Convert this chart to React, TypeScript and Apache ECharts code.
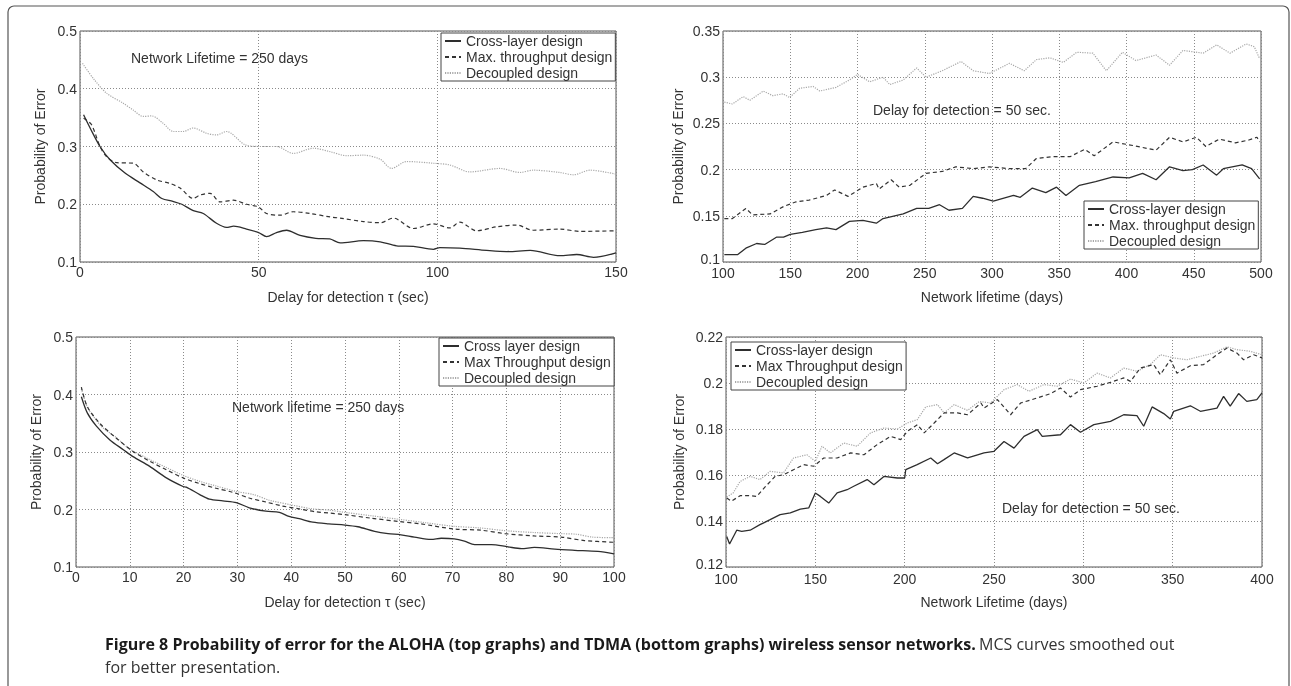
import React, { useEffect, useRef } from "react";
import * as echarts from "echarts";

type Pt = [number, number];

// ---------- Panel 1: ALOHA, probability vs delay (lifetime 250 days)
const p1Cross: Pt[] = [[1,0.355],[3,0.33],[5.6,0.3],[8.4,0.277],[12.6,0.254],[16.8,0.237],[20.5,0.222],[22.9,0.21],[26,0.205],[28.5,0.2],[31.7,0.189],[34.5,0.184],[38.2,0.167],[41,0.16],[43,0.162],[46.6,0.157],[50,0.151],[52.2,0.144],[55,0.151],[57.8,0.155],[61.6,0.146],[66,0.141],[69.9,0.14],[72.8,0.133],[79.3,0.137],[84,0.135],[88.6,0.128],[93.3,0.127],[98.9,0.122],[100.7,0.125],[106.3,0.124],[113.8,0.12],[119.4,0.118],[126,0.12],[134.3,0.111],[139,0.113],[143.7,0.108],[150,0.116]];
const p1MaxTp: Pt[] = [[1,0.349],[3.2,0.338],[5.6,0.3],[7.5,0.282],[10.3,0.272],[14.9,0.271],[17.7,0.256],[21.5,0.242],[25.2,0.236],[28,0.228],[31.7,0.21],[33.6,0.216],[36.4,0.219],[39.2,0.204],[42.9,0.207],[46.6,0.2],[50,0.195],[52.2,0.184],[56,0.181],[59.7,0.187],[64.4,0.184],[70,0.178],[72.8,0.176],[79.3,0.17],[84,0.168],[87.7,0.176],[93.3,0.158],[98.9,0.166],[103.5,0.159],[106.3,0.169],[111,0.154],[116.6,0.161],[122.2,0.164],[126.8,0.155],[134.3,0.157],[139.9,0.153],[150,0.154]];
const p1Decoupled: Pt[] = [[0.7,0.444],[3.7,0.418],[7.5,0.392],[12.1,0.375],[14.9,0.363],[17.7,0.352],[20,0.353],[23.3,0.34],[26.1,0.326],[28.9,0.326],[31.7,0.332],[35.4,0.323],[38.2,0.32],[41,0.326],[46.2,0.303],[50.4,0.3],[55,0.3],[59.7,0.288],[65.3,0.297],[70,0.291],[74.7,0.284],[79.3,0.285],[84,0.278],[87.2,0.262],[91.4,0.274],[98.9,0.271],[103.5,0.268],[109.1,0.256],[117.5,0.262],[123.1,0.255],[126.8,0.259],[134.3,0.255],[138.1,0.251],[142.7,0.259],[150,0.252]];

// ---------- Panel 2: ALOHA, probability vs lifetime (delay 50 s)
const p2Cross: Pt[] = [[101,0.108],[111,0.108],[117,0.115],[125,0.12],[131,0.119],[140,0.127],[145,0.127],[150,0.13],[159,0.132],[169,0.135],[177,0.137],[184,0.135],[194,0.144],[204,0.145],[214,0.142],[219,0.147],[234,0.152],[244,0.158],[253,0.158],[261,0.162],[268,0.156],[278,0.158],[286,0.171],[293,0.169],[301,0.166],[316,0.172],[321,0.17],[330,0.18],[340,0.175],[348,0.181],[355,0.172],[365,0.183],[377,0.187],[390,0.192],[402,0.191],[412,0.196],[422,0.189],[432,0.203],[442,0.199],[449,0.2],[457,0.205],[467,0.194],[472,0.201],[486,0.205],[493,0.201],[499,0.19]];
const p2MaxTp: Pt[] = [[101,0.147],[107,0.147],[117,0.158],[122,0.151],[135,0.152],[145,0.16],[154,0.165],[164,0.167],[177,0.172],[183,0.178],[193,0.171],[204,0.181],[214,0.185],[216,0.179],[225,0.189],[231,0.181],[239,0.183],[251,0.196],[263,0.198],[273,0.203],[286,0.201],[298,0.203],[313,0.201],[325,0.201],[333,0.212],[345,0.214],[358,0.214],[369,0.222],[376,0.215],[390,0.23],[405,0.226],[422,0.221],[432,0.235],[442,0.23],[452,0.235],[459,0.225],[469,0.233],[481,0.229],[491,0.232],[497,0.235],[499,0.23]];
const p2Decoupled: Pt[] = [[101,0.273],[107,0.271],[115,0.279],[120,0.275],[130,0.285],[137,0.28],[144.6,0.282],[149.5,0.278],[157,0.288],[167,0.29],[172,0.285],[184,0.289],[194,0.297],[200,0.303],[209,0.295],[219,0.3],[224,0.292],[234,0.297],[244,0.31],[251,0.3],[263,0.307],[277,0.317],[286,0.307],[298,0.304],[313,0.315],[324,0.307],[333,0.319],[343,0.321],[353,0.316],[363,0.327],[375,0.326],[385,0.307],[397,0.327],[407,0.318],[422,0.324],[432,0.313],[442,0.329],[457,0.326],[467,0.335],[477,0.326],[489,0.336],[495,0.333],[499,0.32]];

// ---------- Panel 3: TDMA, probability vs delay (lifetime 250 days)
const p3Cross: Pt[] = [[1,0.396],[2.1,0.368],[3.8,0.345],[6.3,0.321],[8.8,0.304],[10.6,0.292],[13.7,0.275],[16.8,0.255],[19.9,0.24],[20.5,0.239],[23,0.226],[24.8,0.218],[27.3,0.215],[29.8,0.212],[32.2,0.203],[35.3,0.197],[37.8,0.195],[39.6,0.188],[41.5,0.184],[44,0.178],[47,0.175],[50,0.173],[52.4,0.17],[55.5,0.162],[58,0.158],[60.4,0.156],[62.9,0.152],[66,0.148],[67.9,0.15],[70.3,0.149],[72.2,0.145],[74.1,0.139],[77.2,0.139],[80.3,0.135],[82.8,0.132],[85.2,0.134],[89,0.131],[92.7,0.129],[97,0.127],[100,0.123]];
const p3MaxTp: Pt[] = [[1,0.413],[2.1,0.379],[4.4,0.35],[7.5,0.324],[10.6,0.301],[13.7,0.284],[16.8,0.269],[19.9,0.255],[23,0.245],[26,0.237],[29.1,0.23],[32.2,0.22],[35.3,0.213],[38.4,0.206],[41.5,0.201],[44.6,0.196],[47,0.194],[50,0.191],[54.8,0.185],[60.1,0.179],[64.1,0.175],[70.3,0.166],[75.3,0.164],[79.7,0.158],[85.2,0.154],[90.2,0.152],[94.5,0.146],[100,0.143]];
const p3Decoupled: Pt[] = [[1,0.41],[2.1,0.378],[3.8,0.355],[5,0.342],[7.5,0.325],[10,0.305],[13.7,0.287],[16.8,0.273],[20,0.259],[23,0.249],[26,0.241],[30,0.231],[33,0.226],[36,0.216],[40,0.208],[44,0.201],[47,0.199],[50,0.195],[55,0.189],[60,0.183],[65,0.177],[70,0.171],[75,0.168],[80,0.163],[85,0.16],[90,0.158],[93,0.157],[96,0.152],[100,0.151]];

// ---------- Panel 4: TDMA, probability vs lifetime (delay 50 s)
const p4Cross: Pt[] = [[100.4,0.1333],[102,0.13],[106,0.136],[108.8,0.1355],[113.5,0.136],[119,0.1384],[124.7,0.1406],[130.3,0.1428],[136,0.1435],[141.6,0.1452],[146.3,0.1457],[150,0.1522],[152.8,0.1507],[157.5,0.1478],[162.2,0.1522],[167.8,0.1536],[171.5,0.1551],[179,0.158],[182.8,0.1558],[188.4,0.1594],[195.9,0.1587],[200,0.1587],[200.6,0.1623],[207,0.1645],[214.6,0.1674],[218.4,0.1649],[222,0.1667],[227.7,0.1696],[235.2,0.1674],[240.8,0.1688],[244.4,0.1696],[250,0.1703],[255.6,0.1746],[261.2,0.1717],[266.8,0.1768],[274.2,0.1797],[277,0.1768],[287.2,0.1775],[292.8,0.1819],[298.4,0.1786],[305.9,0.1819],[315.2,0.1833],[322.6,0.1862],[330,0.1858],[333.8,0.1812],[338.5,0.1896],[345,0.1867],[348.7,0.1843],[350.6,0.1877],[359.9,0.1901],[365.5,0.1877],[374.8,0.1891],[378.5,0.1942],[382.2,0.1899],[386.9,0.1954],[391.5,0.192],[397.1,0.1928],[400,0.1957]];
const p4MaxTp: Pt[] = [[100.4,0.15],[103,0.1486],[107.9,0.151],[113.5,0.151],[117.2,0.1507],[121.9,0.1548],[127.5,0.1594],[132.2,0.1601],[137.8,0.1623],[143.4,0.1645],[149.1,0.1638],[154.7,0.1674],[162.2,0.1674],[169.7,0.1696],[177.2,0.1688],[184.6,0.1732],[192.1,0.1768],[197.8,0.1754],[201.5,0.179],[207.1,0.1819],[210.9,0.1783],[216.5,0.1826],[222.1,0.187],[229.6,0.187],[235.2,0.1862],[242.7,0.1913],[244.4,0.1891],[251.9,0.1928],[259.3,0.1862],[264.9,0.1913],[274.2,0.1935],[281.7,0.1954],[287.2,0.1978],[292.8,0.1939],[298.4,0.1971],[307.7,0.1986],[315.2,0.2003],[322.6,0.2022],[326.4,0.2007],[331.9,0.2065],[339.4,0.208],[343.1,0.2036],[348.7,0.2101],[352.4,0.2043],[359.9,0.2075],[367.3,0.208],[374.8,0.2123],[380.4,0.2152],[386,0.213],[389.7,0.2101],[395.3,0.2123],[400,0.2109]];
const p4Decoupled: Pt[] = [[100.4,0.1504],[104,0.1522],[107.9,0.1572],[113.5,0.1594],[119,0.158],[124.7,0.1616],[132.2,0.1609],[137.8,0.1674],[145.3,0.1688],[150,0.1659],[153.7,0.1725],[158.4,0.1696],[165.9,0.1739],[173.4,0.1725],[180.9,0.1783],[188.4,0.1804],[195.9,0.18],[201.5,0.1826],[207.1,0.1841],[211.8,0.1896],[218.4,0.1906],[222.1,0.187],[227.7,0.1906],[235.2,0.1881],[241.8,0.192],[248.1,0.1913],[255.6,0.1971],[263,0.1993],[269.6,0.1964],[277.9,0.1993],[285.4,0.1986],[292.8,0.2017],[300.3,0.2],[307.7,0.2043],[315.2,0.2022],[322.6,0.2065],[330.1,0.2051],[337.5,0.208],[343.1,0.2123],[350.6,0.2109],[358,0.2101],[365.5,0.2116],[372.9,0.213],[380.4,0.2157],[386,0.2145],[393.4,0.2138],[400,0.2123]];

// ---------- Names / texts
const namesTop = ["Cross-layer design", "Max. throughput design", "Decoupled design"];
const names3 = ["Cross layer design", "Max Throughput design", "Decoupled design"];
const names4 = ["Cross-layer design", "Max Throughput design", "Decoupled design"];
const yName = "Probability of Error";
const xNames = ["Delay for detection τ (sec)", "Network lifetime (days)", "Delay for detection τ (sec)", "Network Lifetime (days)"];
const notes = ["Network Lifetime = 250 days", "Delay for detection = 50 sec.", "Network lifetime = 250 days", "Delay for detection = 50 sec."];
const captionBold = "Figure 8 Probability of error for the ALOHA (top graphs) and TDMA (bottom graphs) wireless sensor networks.";
const captionNormal = "MCS curves smoothed out";
const captionLine2 = "for better presentation.";

const FONT = "Liberation Sans";
const TXT = "#333";

const grids = [
  { left: 80, top: 31, width: 536, height: 231 },
  { left: 723, top: 31, width: 538, height: 231 },
  { left: 76, top: 337, width: 538, height: 230 },
  { left: 726, top: 337, width: 536, height: 230 },
];

const fmt = (v: number) => String(Number(v.toFixed(4)));

function xAx(i: number, min: number, max: number, interval: number, margin: number) {
  return {
    type: "value", gridIndex: i, min, max, interval,
    name: xNames[i], nameLocation: "middle", nameGap: 28,
    nameTextStyle: { fontFamily: FONT, fontSize: 14, color: TXT },
    axisLine: { show: false }, axisTick: { show: false },
    axisLabel: { fontFamily: FONT, fontSize: 14, color: TXT, margin },
    splitLine: { show: true, lineStyle: { color: "#8a8a8a", type: [1, 2], width: 1 } },
  };
}
function yAx(i: number, min: number, max: number, interval: number, gap: number, liftMin: boolean) {
  return {
    type: "value", gridIndex: i, min, max, interval,
    name: yName, nameLocation: "middle", nameGap: gap,
    nameTextStyle: { fontFamily: FONT, fontSize: 14, color: TXT },
    axisLine: { show: false }, axisTick: { show: false },
    axisLabel: {
      fontFamily: FONT, fontSize: 14, color: TXT, margin: 3,
      formatter: (v: number) => (liftMin && Math.abs(v - min) < 1e-9 ? `{lo|${fmt(v)}}` : fmt(v)),
      rich: { lo: { fontFamily: FONT, fontSize: 14, color: TXT, padding: [0, 0, 7, 0] } },
    },
    splitLine: { show: true, lineStyle: { color: "#8a8a8a", type: [1, 2], width: 1 } },
  };
}

const styles: Record<string, any> = {
  cross: { color: "#2e2e2e", width: 1.3, type: "solid" },
  maxtp: { color: "#333", width: 1.2, type: [4, 3] },
  dec: { color: "#a8a8a8", width: 1.2, type: [1.2, 1.2] },
};
function ser(name: string, data: Pt[], i: number, kind: string, smooth: number | boolean) {
  return {
    type: "line", name, data, xAxisIndex: i, yAxisIndex: i,
    symbol: "none", showSymbol: false, smooth,
    lineStyle: styles[kind], itemStyle: { color: styles[kind].color },
    z: kind === "cross" ? 4 : kind === "maxtp" ? 3 : 2,
  };
}
function leg(names: string[], left: number, top: number) {
  return {
    show: true, orient: "vertical", left, top, data: names,
    itemWidth: 16, itemHeight: 14, itemGap: 2,
    padding: [1, 3, 1, 3],
    borderColor: "#444", borderWidth: 1, backgroundColor: "#fff",
    textStyle: { fontFamily: FONT, fontSize: 14, color: TXT },
    itemStyle: { opacity: 0 },
    selectedMode: false, z: 10,
  };
}
function note(text: string, x: number, y: number) {
  return {
    type: "text", x, y, z: 20,
    style: { text, fill: TXT, font: `14px "${FONT}"`, verticalAlign: "middle", textVerticalAlign: "middle" },
  };
}

const option: any = {
  animation: false,
  grid: grids.map((g) => ({ ...g, show: true, borderColor: "#555", borderWidth: 1, backgroundColor: "transparent" })),
  xAxis: [xAx(0, 0, 150, 50, 3), xAx(1, 100, 500, 50, 4), xAx(2, 0, 100, 10, 3), xAx(3, 100, 400, 50, 5)],
  yAxis: [
    yAx(0, 0.1, 0.5, 0.1, 33, false),
    yAx(1, 0.1, 0.35, 0.05, 38, true),
    yAx(2, 0.1, 0.5, 0.1, 33, false),
    yAx(3, 0.12, 0.22, 0.02, 40, true),
  ],
  legend: [
    leg(namesTop, 441, 33),
    leg(namesTop, 1084, 201),
    leg(names3, 439, 338),
    leg(names4, 731, 342),
  ],
  series: [
    ser(namesTop[0], p1Cross, 0, "cross", 0.3),
    ser(namesTop[1], p1MaxTp, 0, "maxtp", 0.3),
    ser(namesTop[2], p1Decoupled, 0, "dec", 0.3),
    ser(namesTop[0], p2Cross, 1, "cross", false),
    ser(namesTop[1], p2MaxTp, 1, "maxtp", false),
    ser(namesTop[2], p2Decoupled, 1, "dec", false),
    ser(names3[0], p3Cross, 2, "cross", 0.3),
    ser(names3[1], p3MaxTp, 2, "maxtp", 0.3),
    ser(names3[2], p3Decoupled, 2, "dec", 0.3),
    ser(names4[0], p4Cross, 3, "cross", false),
    ser(names4[1], p4MaxTp, 3, "maxtp", false),
    ser(names4[2], p4Decoupled, 3, "dec", false),
  ],
  graphic: [
    {
      type: "rect", z: 0, silent: true,
      shape: { x: 8, y: 6, width: 1281, height: 700, r: 6 },
      style: { fill: "none", stroke: "#555", lineWidth: 1.2 },
    },
    note(notes[0], 131, 58),
    note(notes[1], 873, 110),
    note(notes[2], 232, 407),
    note(notes[3], 1002, 508),
    {
      type: "text", x: 105, y: 644, z: 20,
      style: {
        text: `{b|${captionBold}} {n|${captionNormal}}`,
        verticalAlign: "middle", textVerticalAlign: "middle",
        rich: {
          b: { fontFamily: "Open Sans", fontSize: 16, fontWeight: "bold", fill: "#1a1a1a", color: "#1a1a1a" },
          n: { fontFamily: "Open Sans", fontSize: 16, fill: "#333", color: "#333" },
        },
      },
    },
    {
      type: "text", x: 105, y: 667, z: 20,
      style: { text: captionLine2, fill: "#333", font: '16px "Open Sans"', verticalAlign: "middle", textVerticalAlign: "middle" },
    },
  ],
};

export default function App() {
  const ref = useRef<HTMLDivElement>(null);
  useEffect(() => {
    if (!ref.current) return;
    const chart = echarts.init(ref.current, null, { renderer: "svg" });
    chart.setOption(option);
    return () => chart.dispose();
  }, []);
  return <div ref={ref} style={{ position: "fixed", left: 0, top: 0, width: 1291, height: 686 }} />;
}
